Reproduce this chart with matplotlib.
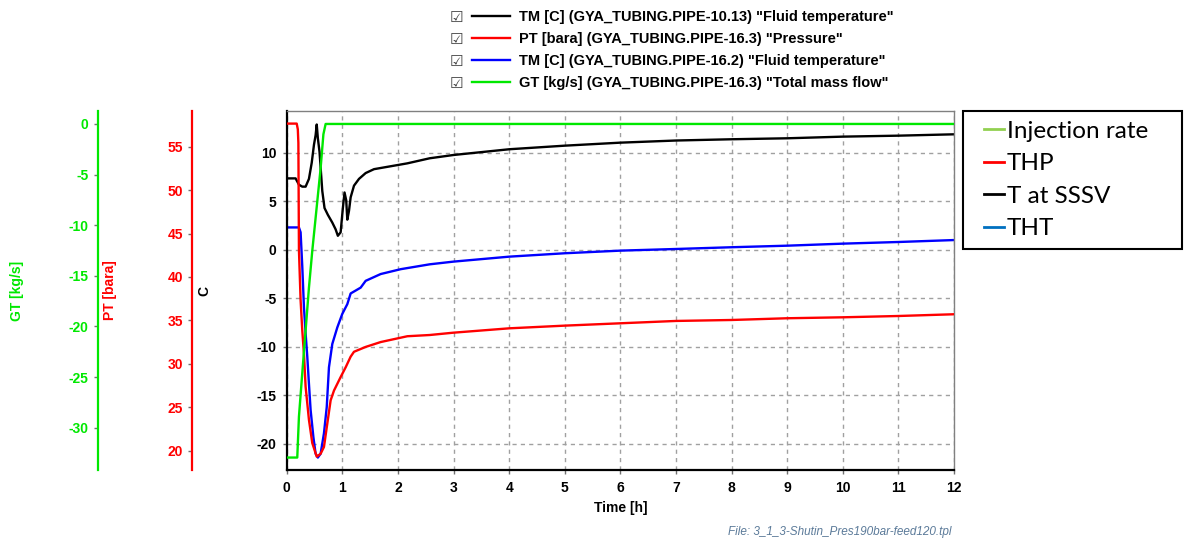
import matplotlib
matplotlib.use("Agg")
import matplotlib.pyplot as plt
from matplotlib.lines import Line2D
from matplotlib.legend_handler import HandlerLine2D

# TM [C] (GYA_TUBING.PIPE-10.13) - temperature at SSSV
t_sssv = [0, 0.16, 0.22, 0.28, 0.34, 0.40, 0.45, 0.49, 0.52, 0.54, 0.56, 0.59, 0.64, 0.68,
          0.74, 0.82, 0.88, 0.92, 0.97, 1.01, 1.04, 1.07, 1.09, 1.12, 1.15, 1.21, 1.30, 1.42,
          1.57, 1.87, 2.17, 2.57, 3, 4, 5, 6, 7, 8, 9, 10, 11, 12]
tm_sssv = [7.35, 7.35, 6.7, 6.5, 6.5, 7.3, 8.96, 10.8, 11.8, 12.9, 11.5, 10.1, 6.05, 4.3,
           3.6, 2.8, 2.1, 1.44, 1.8, 4.3, 5.9, 5.1, 3.1, 4.0, 5.4, 6.6, 7.3, 7.9,
           8.3, 8.6, 8.9, 9.42, 9.76, 10.35, 10.72, 11.03, 11.25, 11.38, 11.48, 11.65, 11.75, 11.89]

# PT [bara] (GYA_TUBING.PIPE-16.3) - tubing head pressure
t_thp = [0, 0.18, 0.20, 0.21, 0.22, 0.25, 0.28, 0.31, 0.34, 0.40, 0.46, 0.54, 0.61, 0.67,
         0.73, 0.79, 0.85, 0.97, 1.06, 1.15, 1.21, 1.42, 1.69, 2.17, 2.57, 3, 4, 5, 6, 7,
         8, 9, 10, 11, 12]
pt_thp = [57.66, 57.66, 57.0, 55.43, 43.13, 37.32, 33.85, 31.17, 27.37, 23.56, 20.88, 19.32,
          19.65, 20.43, 23.12, 25.80, 26.92, 28.48, 29.60, 30.83, 31.39, 31.95, 32.51, 33.18,
          33.32, 33.59, 34.09, 34.40, 34.67, 34.94, 35.05, 35.25, 35.36, 35.51, 35.71]

# TM [C] (GYA_TUBING.PIPE-16.2) - tubing head temperature
t_tht = [0, 0.22, 0.25, 0.28, 0.31, 0.34, 0.37, 0.40, 0.43, 0.48, 0.52, 0.56, 0.61, 0.67,
         0.72, 0.76, 0.82, 0.91, 1.00, 1.09, 1.15, 1.33, 1.42, 1.69, 2.05, 2.57, 3, 4, 5,
         6, 7, 8, 9, 10, 11, 12]
tm_tht = [2.3, 2.3, 1.8, -1.7, -5.9, -8.6, -11.0, -13.8, -16.5, -19.3, -21.0, -21.4, -21.0,
          -18.9, -16.2, -12.1, -9.7, -8.0, -6.6, -5.6, -4.5, -3.9, -3.2, -2.5, -2.0, -1.5,
          -1.22, -0.71, -0.36, -0.09, 0.08, 0.26, 0.42, 0.63, 0.80, 1.0]

# GT [kg/s] (GYA_TUBING.PIPE-16.3) - total mass flow
t_gt = [0, 0.19, 0.22, 0.28, 0.34, 0.40, 0.46, 0.55, 0.61, 0.66, 0.70, 12]
gt = [-32.95, -32.95, -28.92, -24.61, -20.39, -16.17, -12.53, -7.64, -4.37, -1.02, 0.0, 0.0]

x_ticks = list(range(0, 13))
c_ticks = [-20, -15, -10, -5, 0, 5, 10]
pt_ticks = [20, 25, 30, 35, 40, 45, 50, 55]
gt_ticks = [-30, -25, -20, -15, -10, -5, 0]

top_labels = ['TM [C] (GYA_TUBING.PIPE-10.13) "Fluid temperature"',
              'PT [bara] (GYA_TUBING.PIPE-16.3) "Pressure"',
              'TM [C] (GYA_TUBING.PIPE-16.2) "Fluid temperature"',
              'GT [kg/s] (GYA_TUBING.PIPE-16.3) "Total mass flow"']
side_labels = ['Injection rate', 'THP', 'T at SSSV', 'THT']
side_colors = ['#92d050', '#ff0000', '#000000', '#0070c0']

GREEN = '#00e800'
RED = '#ff0000'

plt.rcParams['font.family'] = ['Liberation Sans', 'DejaVu Sans']
plt.rcParams['font.weight'] = 'bold'
plt.rcParams['axes.labelweight'] = 'bold'
plt.rcParams['axes.unicode_minus'] = False
plt.rcParams['font.size'] = 10

W, H = 1186, 542
fig = plt.figure(figsize=(W / 100, H / 100), dpi=100)
ax = fig.add_axes([286.7 / W, (H - 470) / H, 667.3 / W, 359 / H])

# main axis (C)
ax.set_xlim(0, 12)
ax.set_ylim(-22.68, 14.29)
ax.set_xticks(x_ticks)
ax.set_yticks(c_ticks)
ax.grid(True, linestyle=(0, (3, 3)), color='#a0a0a0', lw=1)
ax.tick_params(direction='out', length=3, width=1, color='#707070', labelcolor='black')
ax.tick_params(axis='y', pad=4.5)
ax.tick_params(axis='x', pad=5)
for s in ['left', 'bottom']:
    ax.spines[s].set_linewidth(1.6)
    ax.spines[s].set_color('black')
for s in ['top', 'right']:
    ax.spines[s].set_linewidth(1)
    ax.spines[s].set_color('#808080')
ax.set_ylabel('C')
ax.yaxis.set_label_coords(-0.1124, 0.5)
ax.set_xlabel('Time [h]')
ax.xaxis.set_label_coords(0.5, -0.085)

# pressure and mass flow axes, moved out to the left
ax_pt = ax.twinx()
ax_gt = ax.twinx()
for a, pos, col, lim, ticks, lab, lx in [
        (ax_pt, -0.1415, RED, (17.78, 59.11), pt_ticks, 'PT [bara]', -0.2548),
        (ax_gt, -0.2832, GREEN, (-34.18, 1.28), gt_ticks, 'GT [kg/s]', -0.3932)]:
    a.set_ylim(*lim)
    a.set_yticks(ticks)
    a.yaxis.set_ticks_position('left')
    a.yaxis.set_label_position('left')
    a.spines['left'].set_position(('axes', pos))
    a.spines['left'].set_color(col)
    a.spines['left'].set_linewidth(1.6)
    for s in ['top', 'right', 'bottom']:
        a.spines[s].set_visible(False)
    a.tick_params(axis='y', direction='out', length=3, width=1, color='#707070',
                  labelcolor=col, pad=3.5)
    a.set_ylabel(lab, color=col)
    a.yaxis.set_label_coords(lx, 0.5)

l_sssv, = ax.plot(t_sssv, tm_sssv, color='black', lw=1.7)
l_tht, = ax.plot(t_tht, tm_tht, color='#0000ff', lw=1.7)
l_thp, = ax_pt.plot(t_thp, pt_thp, color=RED, lw=1.7)
l_gt, = ax_gt.plot(t_gt, gt, color=GREEN, lw=1.7)

# top legend (with check boxes)
leg_top = fig.legend([l_sssv, l_thp, l_tht, l_gt], top_labels, loc='upper left',
                     bbox_to_anchor=(472 / W, 1 - 10.5 / H), frameon=False,
                     handlelength=2.6, handletextpad=0.62, labelspacing=0.54,
                     borderpad=0, borderaxespad=0, prop={'weight': 'bold', 'size': 10.5})
fig.canvas.draw()
for txt in leg_top.get_texts():
    bb = txt.get_window_extent()
    yc = (bb.y0 + bb.y1) / 2 / H
    fig.text(456.5 / W, yc, '\u2611', family='DejaVu Sans', weight='normal', fontsize=11,
             color='#404040', ha='center', va='center')

# right legend
handles = [Line2D([], [], color=c, lw=2) for c in side_colors]
leg_side = fig.legend(handles, side_labels, loc='upper left',
                      bbox_to_anchor=(962.7 / W, 1 - 111 / H, 219 / W, 0.0), mode='expand',
                      fancybox=False, edgecolor='black', framealpha=1,
                      handlelength=1.29, handletextpad=0.12, labelspacing=0.47,
                      borderpad=0.4, borderaxespad=0,
                      handler_map={Line2D: HandlerLine2D(xpad=0.46)},
                      prop={'family': 'Lato', 'size': 17.5, 'weight': 'normal'})
leg_side.get_frame().set_linewidth(1.5)

fig.text(951 / W, 1 - 532 / H, 'File: 3_1_3-Shutin_Pres190bar-feed120.tpl', ha='right',
         va='center', style='italic', weight='normal', fontsize=8.5, color='#5b7a99')

fig.savefig('out.png', dpi=100)
